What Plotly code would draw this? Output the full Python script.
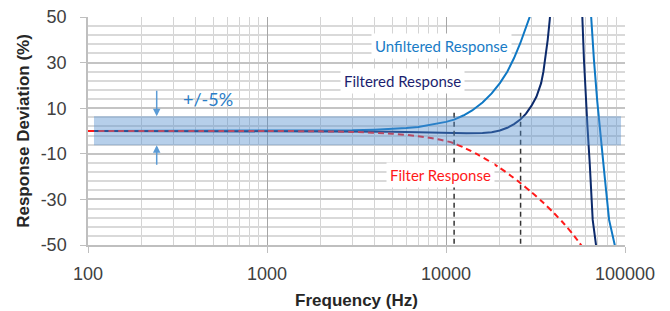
import numpy as np
import plotly.graph_objects as go

# ---------------- data ----------------
freq_unfiltered = [100, 1000, 2000, 3000, 4000, 5000, 6000, 7000, 8000, 9000, 10000,
                   11100, 12500, 14000, 16000, 18000, 20000, 22000, 24000, 26000,
                   28000, 29500, 31000, 45000, 63500, 64570, 67100, 70000, 73000,
                   77000, 81500, 87700, 90000]
dev_unfiltered = [0, 0, 0.1, 0.3, 0.6, 0.9, 1.3, 1.8, 2.5, 3.2, 4.0,
                  5.0, 6.8, 9.0, 12.5, 16.5, 21, 26, 32, 38.5,
                  45, 50.5, 57, 300, 60, 50, 31, 13, -3,
                  -20, -39, -50, -54]

freq_filtered = [100, 1000, 3000, 5000, 7000, 10000, 13000, 16000, 18000, 20000,
                 22000, 24000, 26000, 28000, 30000, 32000, 34000, 35000, 36000,
                 37000, 38000, 39000, 48000, 57000, 57760, 59000, 60300, 61700,
                 63500, 66000, 68870, 70000]
dev_filtered = [0, 0, -0.1, -0.3, -0.6, -0.9, -1.0, -0.9, -0.5, 0.2,
                1.4, 3.0, 5.0, 7.6, 11, 15, 21, 26, 33,
                40, 49, 60, 300, 60, 50, 31, 15, 2,
                -14, -39, -50, -55]

freq_filter = [100, 1000, 2000, 3000, 5000, 7000, 9000, 11100, 13000, 15000,
               17500, 20000, 23000, 26000, 30000, 35000, 40000, 46000, 52000, 58000]
dev_filter = [0, 0, -0.15, -0.4, -1.2, -2.3, -3.6, -5.4, -7.8, -10.3,
              -13.3, -16.2, -19.6, -22.8, -26.8, -31.5, -35.9, -41, -46, -51]

# +/-5% tolerance band
band_freq = [108, 95000]
band_dev = [-6.2, 6.5]

# frequencies where responses cross the +5% limit
marker_freq = [11100, 26100]
marker_dev = [8, -52]

x_ticks = [100, 1000, 10000, 100000]
x_tick_labels = ["100", "1000", "10000", "100000"]
y_ticks = [-50, -30, -10, 10, 30, 50]
y_tick_labels = ["-50", "-30", "-10", "10", "30", "50"]

# ---------------- colours ----------------
C_UNF = "#0f78c4"
C_FIL = "#0c2a6b"
C_RED = "#ff1a1a"

fig = go.Figure()

fig.add_trace(go.Scatter(x=freq_unfiltered, y=dev_unfiltered, mode="lines",
                         line=dict(color=C_UNF, width=2), hoverinfo="skip"))
fig.add_trace(go.Scatter(x=freq_filtered, y=dev_filtered, mode="lines",
                         line=dict(color=C_FIL, width=2), hoverinfo="skip"))
fig.add_trace(go.Scatter(x=freq_filter, y=dev_filter, mode="lines",
                         line=dict(color=C_RED, width=2, dash="6px,4px", shape="spline",
                                   smoothing=0.8),
                         hoverinfo="skip"))
for f in marker_freq:
    fig.add_trace(go.Scatter(x=[f, f], y=marker_dev, mode="lines",
                             line=dict(color="#333333", width=1.5, dash="5px,4px"),
                             hoverinfo="skip"))

# tolerance band drawn over the curves (semi-transparent)
fig.add_trace(go.Scatter(
    x=[band_freq[0], band_freq[1], band_freq[1], band_freq[0], band_freq[0]],
    y=[band_dev[0], band_dev[0], band_dev[1], band_dev[1], band_dev[0]],
    mode="lines", fill="toself", fillcolor="rgba(80,140,205,0.42)",
    line=dict(width=0), hoverinfo="skip"))

label_font = "Lato"
annotations = [
    dict(xref="paper", yref="paper", x=0.6587, y=0.9285, text="Unfiltered Response",
         showarrow=False, font=dict(family=label_font, size=15, color="#1a7cc6"),
         bgcolor="white", borderpad=3),
    dict(xref="paper", yref="paper", x=0.702, y=0.775, text="Filtered Response",
         showarrow=False, font=dict(family=label_font, size=15, color="#1c1f6f"),
         bgcolor="white", borderpad=3),
    dict(xref="paper", yref="paper", x=0.6568, y=0.2487, text="Filter Response",
         showarrow=False, font=dict(family=label_font, size=15, color=C_RED),
         bgcolor="white", borderpad=3),
    dict(xref="paper", yref="paper", x=0.174, y=0.639, text="+/-5%",
         showarrow=False, font=dict(family=label_font, size=18, color="#2a7dc7")),
    # arrows pointing at the band edges
    dict(x=np.log10(242), y=band_dev[1], ax=0, ay=-27, text="", showarrow=True,
         arrowhead=2, arrowsize=1, arrowwidth=1.5, arrowcolor="#5b9bd5"),
    dict(x=np.log10(242), y=band_dev[0], ax=0, ay=21, text="", showarrow=True,
         arrowhead=2, arrowsize=1, arrowwidth=1.5, arrowcolor="#5b9bd5"),
]

# the page body adds an 8px margin, so the figure is sized to fill the rest
fig.update_layout(
    width=662, height=303,
    margin=dict(l=80, r=45, t=9, b=66),
    plot_bgcolor="white", paper_bgcolor="white",
    showlegend=False,
    annotations=annotations,
    xaxis=dict(
        type="log", range=[2, 5], automargin=False,
        tickmode="array", tickvals=x_ticks, ticktext=x_tick_labels,
        ticks="outside", ticklen=6, tickcolor="#bfbfbf", tickwidth=1,
        showline=True, linecolor="#bfbfbf", linewidth=1.5,
        showgrid=True, gridcolor="#a6a6a6", gridwidth=1,
        minor=dict(dtick="D1", showgrid=True, gridcolor="#d4d4d4", gridwidth=1, ticks=""),
        tickfont=dict(family="Liberation Sans", size=18, color="#404040"),
        ticklabelstandoff=6, ticklabeloverflow="allow",
        title=dict(text="<b>Frequency (Hz)</b>", standoff=11,
                   font=dict(family="Liberation Sans", size=17, color="#262626")),
        zeroline=False,
    ),
    yaxis=dict(
        range=[-50, 50], automargin=False,
        tickmode="array", tickvals=y_ticks, ticktext=y_tick_labels,
        ticks="outside", ticklen=6, tickcolor="#bfbfbf", tickwidth=1,
        showline=True, linecolor="#bfbfbf", linewidth=1.5,
        showgrid=True, gridcolor="#c4c4c4", gridwidth=1.5,
        minor=dict(tick0=-50, dtick=4, showgrid=True, gridcolor="#d9d9d9", gridwidth=1.5, ticks=""),
        tickfont=dict(family="Liberation Sans", size=18, color="#404040"),
        ticklabelstandoff=10, ticklabeloverflow="allow",
        title=dict(text="<b>Response Deviation (%)</b>", standoff=7,
                   font=dict(family="Liberation Sans", size=17, color="#262626")),
        zeroline=False,
    ),
)

fig.write_html("out.html")
